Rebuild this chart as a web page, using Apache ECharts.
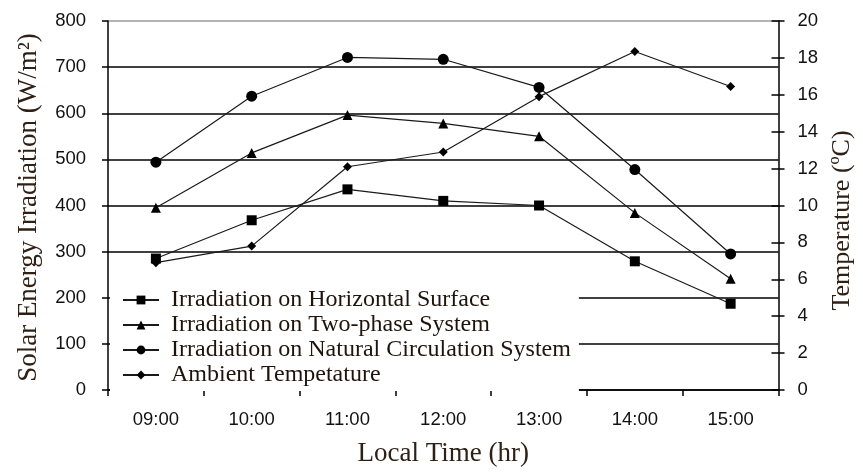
<!DOCTYPE html>
<html>
<head>
<meta charset="utf-8">
<script src="https://cdn.jsdelivr.net/npm/echarts@6/dist/echarts.min.js"></script>
<style>html,body{margin:0;padding:0;background:#fff}#c{width:863px;height:472px}</style>
</head>
<body>
<div id="c"></div>
<script>
var categories = ['09:00','10:00','11:00','12:00','13:00','14:00','15:00'];
var horizontal = [285, 368, 435, 410, 400, 279, 187];
var twoPhase = [395, 514, 596, 578, 550, 384, 241];
var naturalCirc = [494, 637, 721, 717, 656, 478, 295];
var ambientTemp = [6.9, 7.8, 12.1, 12.9, 15.9, 18.35, 16.45];
var leftTicks = {min: 0, max: 800, interval: 100};
var rightTicks = {min: 0, max: 20, interval: 2};

var serif = 'Liberation Serif, Times New Roman, serif';
var sans = 'Liberation Sans, Arial, sans-serif';
var nameColor = '#2e2014';

var chart = echarts.init(document.getElementById('c'), null, {renderer: 'canvas'});
var splitColors = ['#000','#000','#000','#000','#000','#000','#000','#000','#9a9a9a'];
function mkSeries(name, data, symbol, size, yIdx) {
  return {
    name: name, type: 'line', data: data, yAxisIndex: yIdx,
    symbol: symbol, symbolSize: size,
    lineStyle: {color: '#1a1a1a', width: 1.2},
    itemStyle: {color: '#000'},
    animation: false
  };
}
chart.setOption({
  animation: false,
  grid: {left: 108, right: 77, top: 21, bottom: 79},
  legend: {
    orient: 'vertical', left: 110, top: 284,
    padding: [4, 8, 4, 12],
    backgroundColor: '#fff',
    itemWidth: 36, itemHeight: 11, itemGap: 1,
    textStyle: {fontFamily: serif, fontSize: 24, color: '#1e140c', lineHeight: 24, padding: [0, 0, 0, 7]},
    data: ['Irradiation on Horizontal Surface','Irradiation on Two-phase System','Irradiation on Natural Circulation System','Ambient Tempetature']
  },
  xAxis: {
    type: 'category', data: categories, boundaryGap: true,
    name: 'Local Time (hr)', nameLocation: 'middle', nameGap: 50,
    nameTextStyle: {fontFamily: serif, fontSize: 27, color: nameColor},
    axisLine: {lineStyle: {color: '#000', width: 1.5}},
    axisTick: {show: true, length: 6, lineStyle: {color: '#000', width: 1.5}},
    axisLabel: {fontFamily: sans, fontSize: 18.5, color: '#111', margin: 20},
    splitLine: {show: false}
  },
  yAxis: [
    {
      type: 'value', position: 'left', min: leftTicks.min, max: leftTicks.max, interval: leftTicks.interval,
      name: 'Solar Energy Irradiation (W/m²)', nameLocation: 'middle', nameGap: 66, nameRotate: 90,
      nameTextStyle: {fontFamily: serif, fontSize: 27, color: nameColor, padding: [0, 4, 0, 0]},
      axisLine: {show: true, lineStyle: {color: '#000', width: 1.5}},
      axisTick: {show: true, length: 6, lineStyle: {color: '#000', width: 1.5}},
      axisLabel: {fontFamily: sans, fontSize: 18.5, color: '#111', margin: 22},
      splitLine: {show: true, lineStyle: {color: splitColors, width: 1.5}}
    },
    {
      type: 'value', position: 'right', min: rightTicks.min, max: rightTicks.max, interval: rightTicks.interval,
      name: 'Temperature (ºC)', nameLocation: 'middle', nameGap: 50, nameRotate: 90,
      nameTextStyle: {fontFamily: serif, fontSize: 26, color: nameColor, padding: [0, 30, 0, 0]},
      axisLine: {show: true, lineStyle: {color: '#000', width: 1.5}},
      axisTick: {show: true, length: 6, lineStyle: {color: '#000', width: 1.5}},
      axisLabel: {fontFamily: sans, fontSize: 18.5, color: '#111', margin: 19},
      splitLine: {show: false}
    },
    {
      type: 'value', position: 'right', min: rightTicks.min, max: rightTicks.max, interval: rightTicks.interval,
      axisLine: {show: false},
      axisTick: {show: true, inside: true, length: 7, lineStyle: {color: '#000', width: 1.5}},
      axisLabel: {show: false},
      splitLine: {show: false}
    }
  ],
  series: [
    mkSeries('Irradiation on Horizontal Surface', horizontal, 'rect', 10, 0),
    mkSeries('Irradiation on Two-phase System', twoPhase, 'triangle', 10, 0),
    mkSeries('Irradiation on Natural Circulation System', naturalCirc, 'circle', 11, 0),
    mkSeries('Ambient Tempetature', ambientTemp, 'diamond', 9, 1)
  ]
});
</script>
</body>
</html>
